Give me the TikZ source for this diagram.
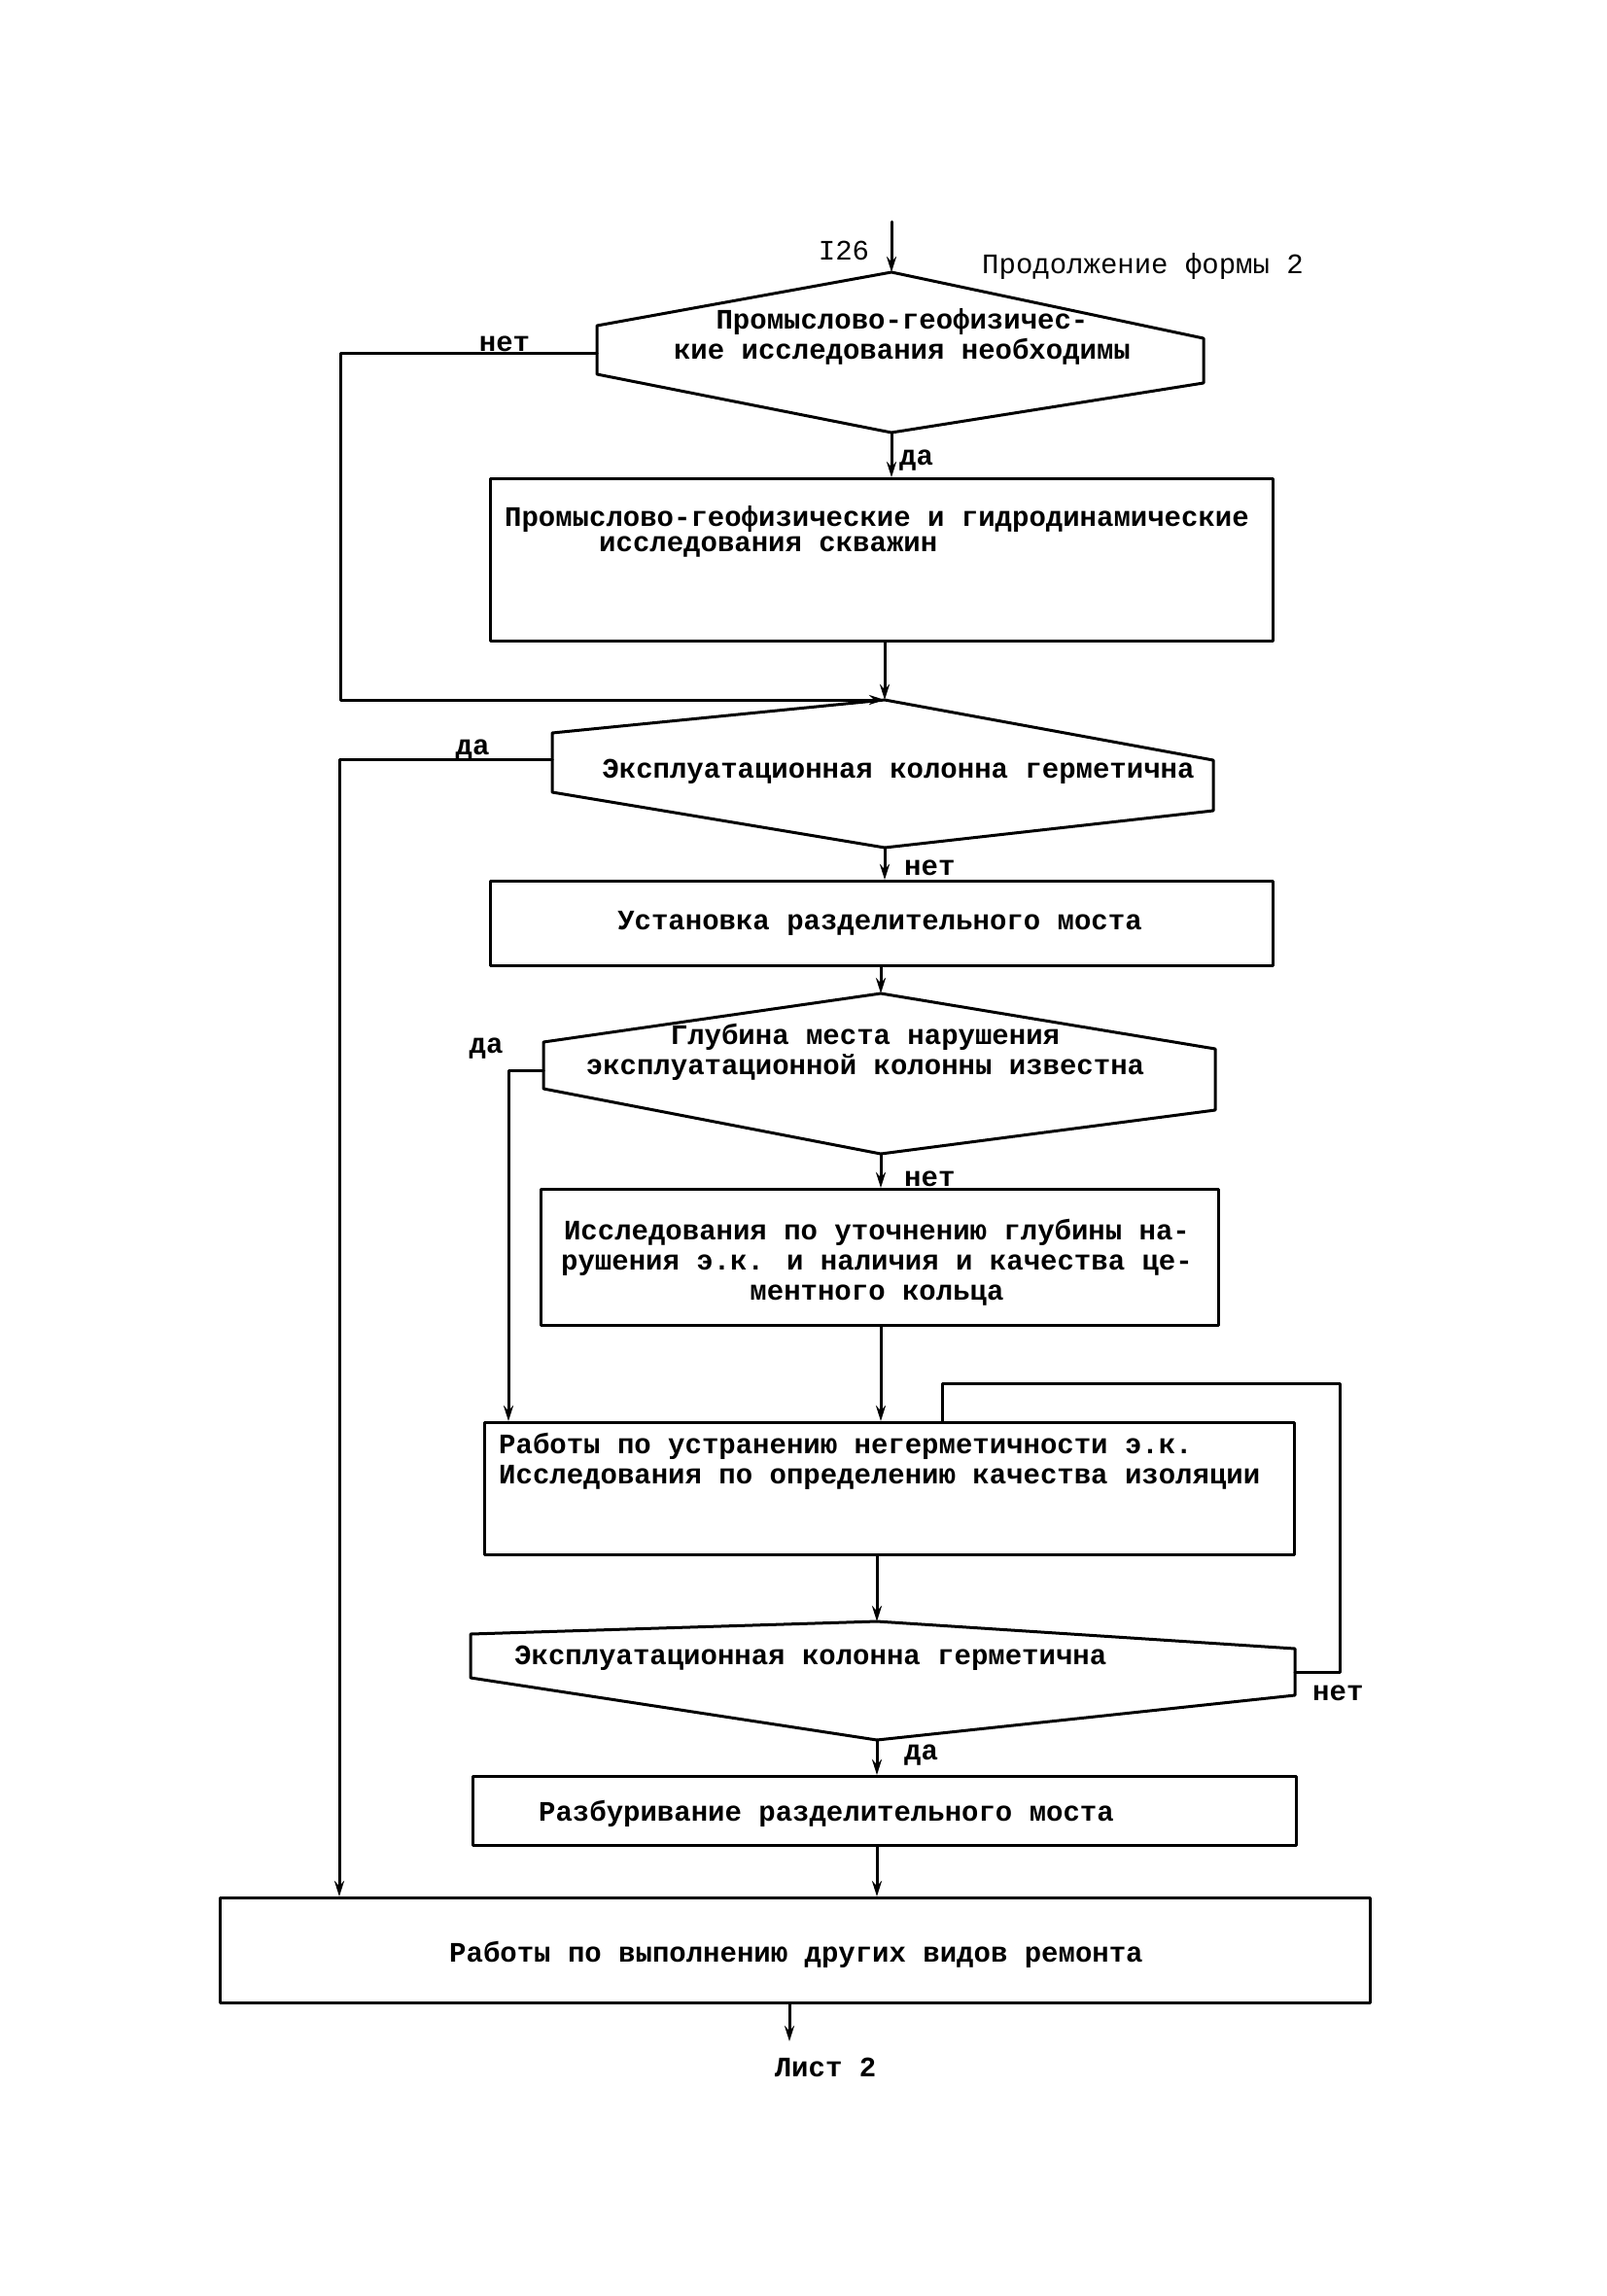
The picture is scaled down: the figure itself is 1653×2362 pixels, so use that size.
\documentclass[tikz,border=0pt]{standalone}
\usepackage{fontspec}
\newfontfamily\tw{Liberation Mono}
\usetikzlibrary{arrows.meta}
\begin{document}
\begin{tikzpicture}[x=1pt,y=-1pt,
  ln/.style={line width=3pt, line cap=round, line join=round},
  arr/.style={ln, -{Stealth[length=16pt,width=10pt]}},
  box/.style={ln, draw, anchor=north west, inner sep=0pt},
  lbl/.style={font={\tw\bfseries\fontsize{29}{31}\selectfont}, inner sep=0pt, align=center},
  lbll/.style={font={\tw\bfseries\fontsize{29}{31}\selectfont}, inner sep=0pt, align=left},
  thin/.style={font={\tw\fontsize{29}{31}\selectfont}, inner sep=0pt}]
\useasboundingbox (0,0) rectangle (1653,2362);
\fill[white] (0,0) rectangle (1653,2362);

% header
\coordinate (top) at (917,228);
\node[thin] (i126) at (868,258) {I26};
\node[thin, anchor=west] (cont) at (1010,274) {Продолжение  формы 2};

% decision 1
\coordinate (d1t) at (917,280);
\coordinate (d1ru) at (1238,348);
\coordinate (d1rl) at (1238,394);
\coordinate (d1b) at (917,445);
\coordinate (d1ll) at (614,385);
\coordinate (d1lu) at (614,335);
\coordinate (d1w) at (614,363);
\draw[ln] (d1t) -- (d1ru) -- (d1rl) -- (d1b) -- (d1ll) -- (d1lu) -- cycle;
\node[lbl] (d1) at (928,346) {Промыслово-геофизичес-\\кие исследования необходимы};
\draw[arr] (top) -- (d1t);

% box 1
\node[box, minimum width=805pt, minimum height=167pt] (b1) at (503,491) {};
\node[lbl] (b1t1) at (902,534) {Промыслово-геофизические и гидродинамические};
\node[lbll, anchor=west] (b1t2) at (616,563) {исследования скважин};
\draw[arr] (d1b) -- (d1b |- b1.north);
\node[lbll, anchor=west] (y1) at (925,474) {да};

% decision 2
\coordinate (d2t) at (910,720);
\coordinate (d2ru) at (1248,782);
\coordinate (d2rl) at (1248,834);
\coordinate (d2b) at (910,872);
\coordinate (d2ll) at (568,815);
\coordinate (d2lu) at (568,754);
\coordinate (d2w) at (568,781);
\draw[ln] (d2t) -- (d2ru) -- (d2rl) -- (d2b) -- (d2ll) -- (d2lu) -- cycle;
\node[lbl] (d2) at (924,794) {Эксплуатационная колонна герметична};

% no-branch of decision 1
\node[lbll] (n1) at (519,354) {нет};
\coordinate (c1a) at (350,363);
\coordinate (c1b) at (350,720);
\draw[arr] (d1w) -- (c1a) -- (c1b) -- (d2t);
\draw[arr] (b1.south -| d2t) -- (d2t);

% box 2
\node[box, minimum width=805pt, minimum height=87pt] (b2) at (503,905) {};
\node[lbl] (b2t) at (905,950) {Установка разделительного моста};
\draw[arr] (d2b) -- (d2b |- b2.north);
\node[lbll, anchor=west] (n2) at (930,893) {нет};

% final box
\node[box, minimum width=1183pt, minimum height=108pt] (b6) at (225,1951) {};
\node[lbl] (b6t) at (819,2011) {Работы по выполнению других видов ремонта};

% yes-branch of decision 2
\node[lbll] (y2) at (486,772) {да};
\coordinate (c2a) at (349,781);
\draw[arr] (d2w) -- (c2a) -- (c2a |- b6.north);

% decision 3
\coordinate (d3t) at (906,1022);
\coordinate (d3ru) at (1250,1079);
\coordinate (d3rl) at (1250,1142);
\coordinate (d3b) at (906,1187);
\coordinate (d3ll) at (559,1120);
\coordinate (d3lu) at (559,1072);
\coordinate (d3w) at (559,1101);
\draw[ln] (d3t) -- (d3ru) -- (d3rl) -- (d3b) -- (d3ll) -- (d3lu) -- cycle;
\node[lbl] (d3) at (890,1082) {Глубина места нарушения\\эксплуатационной колонны известна};
\draw[arr] (b2.south -| d3t) -- (d3t);

% box 3
\node[box, minimum width=697pt, minimum height=140pt] (b3) at (555,1222) {};
\node[lbl] (b3t) at (902,1299) {Исследования по уточнению глубины на-\\рушения э.к. и наличия и качества це-\\ментного кольца};
\draw[arr] (d3b) -- (d3b |- b3.north);
\node[lbll, anchor=west] (n3) at (930,1213) {нет};

% box 4
\node[box, minimum width=833pt, minimum height=136pt] (b4) at (497,1462) {};
\node[lbll, anchor=west] (b4t) at (513,1503) {Работы по устранению негерметичности э.к.\\Исследования по определению качества изоляции};
\draw[arr] (b3.south -| d3t) -- (b4.north -| d3t);

% yes-branch of decision 3
\node[lbll] (y3) at (500,1079) {да};
\coordinate (c3a) at (523,1101);
\draw[arr] (d3w) -- (c3a) -- (c3a |- b4.north);

% decision 4
\coordinate (d4t) at (902,1668);
\coordinate (d4ru) at (1332,1696);
\coordinate (d4rl) at (1332,1744);
\coordinate (d4b) at (902,1790);
\coordinate (d4ll) at (484,1726);
\coordinate (d4lu) at (484,1681);
\coordinate (d4e) at (1332,1720);
\draw[ln] (d4t) -- (d4ru) -- (d4rl) -- (d4b) -- (d4ll) -- (d4lu) -- cycle;
\node[lbll, anchor=west] (d4) at (529,1706) {Эксплуатационная колонна герметична};
\draw[arr] (b4.south -| d4t) -- (d4t);

% no-branch loop of decision 4
\coordinate (c4a) at (1378,1720);
\coordinate (c4b) at (1378,1423);
\coordinate (c4c) at (969,1423);
\draw[ln] (d4e) -- (c4a) -- (c4b) -- (c4c) -- (c4c |- b4.north);
\node[lbll, anchor=west] (n4) at (1350,1742) {нет};

% box 5
\node[box, minimum width=847pt, minimum height=71pt] (b5) at (485,1826) {};
\node[lbl] (b5t) at (850,1866) {Разбуривание разделительного моста};
\draw[arr] (d4b) -- (d4b |- b5.north);
\node[lbll, anchor=west] (y4) at (930,1806) {да};
\draw[arr] (b5.south -| d4b) -- (d4b |- b6.north);

% exit
\coordinate (end) at (812,2100);
\draw[arr] (b6.south -| end) -- (end);
\node[lbl] (sheet) at (849,2127) {Лист 2};
\end{tikzpicture}
\end{document}
